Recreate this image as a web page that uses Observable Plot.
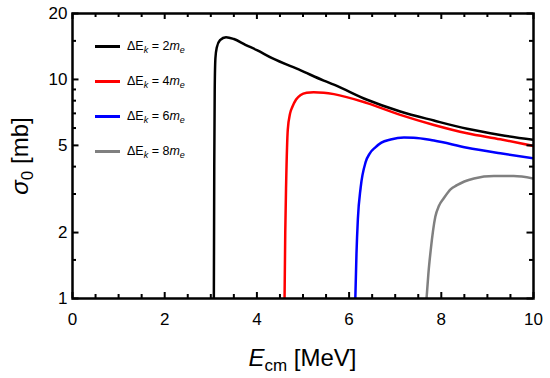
<!DOCTYPE html>
<html>
<head>
<meta charset="utf-8">
<script src="https://cdn.jsdelivr.net/npm/d3@7"></script>
<script src="https://cdn.jsdelivr.net/npm/@observablehq/plot@0.6"></script>
<style>
  body { margin: 0; background: white; }
  #wrap { position: relative; width: 550px; height: 378px; font-family: "Liberation Sans", Arial, sans-serif; color: black; }
  #chart { position: absolute; left: 0; top: 0; }
  .lg { position: absolute; left: 95px; display: flex; align-items: center; font-size: 12.5px; white-space: nowrap; }
  .lg .sw { width: 25px; height: 3px; margin-right: 7px; }
  .lg sub { font-size: 9px; vertical-align: -3px; line-height: 0; }
  .xlabel { position: absolute; left: 0; width: 605px; text-align: center; top: 346px; font-size: 24px; line-height: 24px; white-space: nowrap; }
  .xlabel sub, .ylabel sub { font-size: 17px; vertical-align: -5px; line-height: 0; }
  .ylabel { position: absolute; left: 20px; top: 156px; font-size: 24px; line-height: 24px; white-space: nowrap; transform: translate(-50%, -50%) rotate(-90deg); }
</style>
</head>
<body>
<div id="wrap">
  <div id="chart"></div>
  <div class="xlabel"><i>E</i><sub>cm</sub> [MeV]</div>
  <div class="ylabel"><i>σ</i><sub>0</sub> [mb]</div>
</div>
<script>
// Tick values
const xMajor = [0, 2, 4, 6, 8, 10];
const xMinor = [0.5, 1, 1.5, 2.5, 3, 3.5, 4.5, 5, 5.5, 6.5, 7, 7.5, 8.5, 9, 9.5];
const yMajor = [1, 2, 5, 10, 20];
const yMinor = [1.5, 3, 4, 6, 7, 8, 9, 15];

// Series (E_cm in MeV, sigma_0 in mb)
const seriesLabels = ["2", "4", "6", "8"];
const seriesColors = ["#000000", "#ff0000", "#0000ff", "#808080"];

const s2x = [3.066, 3.075, 3.085, 3.10, 3.13, 3.20, 3.33, 3.50, 3.75, 4.00, 4.33, 4.95, 5.45, 5.67, 6.39, 7.11, 7.84, 8.56, 9.28, 10.0];
const s2y = [1.0, 4.0, 9.0, 12.5, 14.0, 15.1, 15.6, 15.3, 14.4, 13.6, 12.5, 11.0, 9.88, 9.47, 8.08, 7.14, 6.49, 5.95, 5.58, 5.3];

const s4x = [4.60, 4.615, 4.635, 4.67, 4.72, 4.77, 4.85, 4.95, 5.08, 5.23, 5.45, 5.67, 6.39, 7.11, 7.84, 8.56, 9.28, 10.0];
const s4y = [1.0, 2.0, 3.4, 5.9, 7.0, 7.5, 8.1, 8.5, 8.7, 8.75, 8.7, 8.57, 7.80, 6.89, 6.20, 5.68, 5.33, 4.97];

const s6x = [6.135, 6.16, 6.19, 6.25, 6.36, 6.45, 6.57, 6.70, 6.90, 7.19, 7.40, 7.84, 8.56, 9.28, 10.0];
const s6y = [1.0, 1.6, 2.3, 3.2, 4.2, 4.6, 4.9, 5.15, 5.32, 5.43, 5.42, 5.26, 4.88, 4.60, 4.36];

const s8x = [7.68, 7.72, 7.77, 7.87, 7.95, 8.05, 8.20, 8.34, 8.50, 8.71, 9.14, 9.57, 10.0];
const s8y = [1.0, 1.3, 1.66, 2.36, 2.65, 2.86, 3.15, 3.29, 3.42, 3.53, 3.62, 3.62, 3.53];

const seriesX = [s2x, s4x, s6x, s8x];
const seriesY = [s2y, s4y, s6y, s8y];
const data = seriesX.flatMap((xs, i) => xs.map((x, j) => ({x, y: seriesY[i][j], s: seriesLabels[i]})));

const W = 550, H = 378, mT = 13, mR = 17, mB = 80, mL = 72;
const innerW = W - mL - mR, innerH = H - mT - mB;
const tk = {stroke: "black", strokeWidth: 2};

const chart = Plot.plot({
  width: W,
  height: H,
  marginTop: mT,
  marginRight: mR,
  marginBottom: mB,
  marginLeft: mL,
  style: {fontFamily: "'Liberation Sans', Arial, sans-serif", fontSize: "17px", color: "black", background: "white", overflow: "visible"},
  x: {domain: [0, 10]},
  y: {type: "log", domain: [1, 20]},
  color: {domain: seriesLabels, range: seriesColors},
  marks: [
    Plot.line(data, {x: "x", y: "y", z: "s", stroke: "s", strokeWidth: 2.5, clip: true, curve: "monotone-x"}),
    // tick labels
    Plot.axisX(xMajor, {tickSize: 0, tickPadding: 14, label: null, fontSize: 17, tickFormat: d => String(d)}),
    Plot.axisY(yMajor, {tickSize: 0, tickPadding: 5, label: null, fontSize: 17, tickFormat: d => String(d)}),
    // inward ticks on all four sides
    Plot.tickX(xMajor, {x: d => d, insetTop: innerH - 6, ...tk}),
    Plot.tickX(xMinor, {x: d => d, insetTop: innerH - 4, ...tk}),
    Plot.tickX(xMajor, {x: d => d, insetBottom: innerH - 6, ...tk}),
    Plot.tickX(xMinor, {x: d => d, insetBottom: innerH - 4, ...tk}),
    Plot.tickY(yMajor, {y: d => d, insetRight: innerW - 6.5, ...tk}),
    Plot.tickY(yMinor, {y: d => d, insetRight: innerW - 4, ...tk}),
    Plot.tickY(yMajor, {y: d => d, insetLeft: innerW - 6.5, ...tk}),
    Plot.tickY(yMinor, {y: d => d, insetLeft: innerW - 4, ...tk}),
    Plot.frame({stroke: "black", strokeWidth: 2.5})
  ]
});
document.getElementById("chart").appendChild(chart);

// Legend inside the plot
const wrap = document.getElementById("wrap");
seriesLabels.forEach((lab, i) => {
  const row = document.createElement("div");
  row.className = "lg";
  row.style.top = (38 + i * 35) + "px";
  row.style.height = "16px";
  row.innerHTML = `<span class="sw" style="background:${seriesColors[i]}"></span><span>ΔE<sub><i>k</i></sub> = ${lab}<i>m</i><sub><i>e</i></sub></span>`;
  wrap.appendChild(row);
});
</script>
</body>
</html>
